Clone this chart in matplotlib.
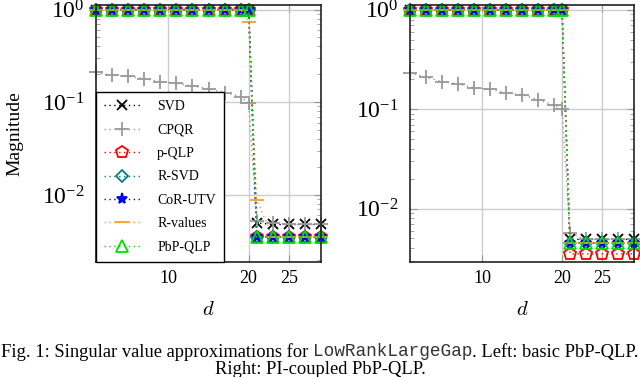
import numpy as np
import matplotlib
matplotlib.use('Agg')
import matplotlib.pyplot as plt
from matplotlib.ticker import LogLocator, NullFormatter

# values (marked points only)
d = [1, 3, 5, 7, 9, 11, 13, 15, 17, 19, 20, 21, 23, 25, 27, 29]
ones = [1.0] * 11

# left panel: basic PbP-QLP
svd_l = ones + [0.0050, 0.0048, 0.0048, 0.0048, 0.0048]
cpqr_l = [0.21, 0.195, 0.19, 0.18, 0.167, 0.16, 0.15, 0.14, 0.127, 0.115, 0.099,
          0.0052, 0.0050, 0.0048, 0.0048, 0.0048]
pqlp_l = ones + [0.0035] * 5
rsvd_l = ones + [0.0035] * 5
cor_l = ones + [0.0035] * 5
rval_l = [1.0] * 10 + [0.74, 0.0088, 0.0035, 0.0035, 0.0035, 0.0035]
pbp_l = ones + [0.0035] * 5

# right panel: PI-coupled PbP-QLP
svd_r = ones + [0.0049] * 5
cpqr_r = [0.233, 0.21, 0.19, 0.18, 0.165, 0.16, 0.146, 0.14, 0.125, 0.11, 0.10,
          0.0057, 0.0049, 0.0049, 0.0049, 0.0049]
pqlp_r = ones + [0.0035] * 5
rsvd_r = ones + [0.0045] * 5
cor_r = ones + [0.0045] * 5
rval_r = ones + [0.0045] * 5
pbp_r = ones + [0.0045] * 5

names = ['SVD', 'CPQR', 'p-QLP', 'R-SVD', 'CoR-UTV', 'R-values', 'PbP-QLP']
colors = ['black', '#999999', 'red', '#008080', 'blue', '#ff9933', '#00e000']
markers = ['x', '+', 'p', 'D', '*', '_', '^']
msizes = [7, 10, 9, 6, 8, 10, 8]
filled = [True, True, False, False, True, True, False]

plt.rcParams['font.family'] = 'Liberation Serif'
plt.rcParams['mathtext.fontset'] = 'cm'

fig = plt.figure(figsize=(6.4, 3.77), dpi=100)
axl = fig.add_axes([96/640, 1-262/377, 225/640, 257/377])
axr = fig.add_axes([410/640, 1-262/377, 224/640, 257/377])

left_data = [svd_l, cpqr_l, pqlp_l, rsvd_l, cor_l, rval_l, pbp_l]
right_data = [svd_r, cpqr_r, pqlp_r, rsvd_r, cor_r, rval_r, pbp_r]

for ax, data, ylo in [(axl, left_data, 0.00189), (axr, right_data, 0.0029)]:
    for vals, name, c, m, ms, f in zip(data, names, colors, markers, msizes, filled):
        ax.plot(d, vals, linestyle=(0, (1, 2.5)), lw=1.0, color=c, marker=m,
                markersize=ms, markeredgewidth=1.3,
                markerfacecolor=c if f else 'none', markeredgecolor=c,
                label=name, clip_on=False)
    ax.set_yscale('log')
    ax.set_xlim(1, 29)
    ax.set_ylim(ylo, 1.12)
    ax.set_xticks([10, 20, 25])
    ax.yaxis.set_major_locator(LogLocator(base=10, numticks=10))
    ax.yaxis.set_minor_locator(LogLocator(base=10, subs=np.arange(2, 10), numticks=10))
    ax.yaxis.set_minor_formatter(NullFormatter())
    ax.grid(True, which='major', color='#cccccc', lw=1.0)
    ax.tick_params(which='both', direction='in', top=True, right=True, color='#999999')
    ax.tick_params(which='major', length=5, labelsize=17)
    ax.tick_params(which='minor', length=3)
    ax.tick_params(axis='x', labelsize=13, pad=6)
    ax.tick_params(axis='y', pad=8)
    for s in ax.spines.values():
        s.set_linewidth(1.2)
        s.set_color('#222222')
    ax.set_xlabel('$d$', fontsize=15, labelpad=10)

axl.set_ylabel('Magnitude', fontsize=14, labelpad=14)
leg = axl.legend(loc='lower left', fontsize=10, numpoints=1, handlelength=2.6,
                 labelspacing=0.75, fancybox=False, framealpha=1,
                 edgecolor='black', borderaxespad=0.0, borderpad=0.6, handletextpad=1.2)
leg.get_frame().set_linewidth(1.0)

# caption below both panels, pieces laid out side by side
pieces = [('Fig. 1: Singular value approximations for ', 'Liberation Serif', 13.3, 'black'),
          ('LowRankLargeGap', 'Liberation Mono', 12.8, '#333333'),
          ('. Left: basic PbP-QLP.', 'Liberation Serif', 13.3, 'black')]
r = fig.canvas.get_renderer()
texts = [fig.text(0, 1-352/377, s, family=fam, fontsize=fs, color=col, va='center')
         for s, fam, fs, col in pieces]
widths = [t.get_window_extent(r).width for t in texts]
x = (640 - sum(widths)) / 2
for t, w in zip(texts, widths):
    t.set_x(x / 640)
    x += w
fig.text(0.5, 1-370/377, 'Right: PI-coupled PbP-QLP.', fontsize=13.3, ha='center', va='center')

fig.savefig('out.png', dpi=100)
